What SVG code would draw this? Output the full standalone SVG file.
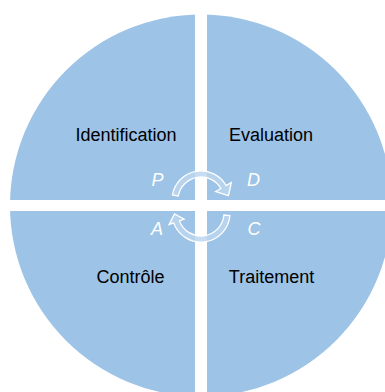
<svg xmlns="http://www.w3.org/2000/svg" width="385" height="392" viewBox="0 0 385 392">
<style>
.lbl{font-family:"Liberation Sans",Arial,sans-serif;font-size:18px;fill:#000;text-anchor:middle}
.pd{font-family:"Liberation Sans",Arial,sans-serif;font-size:18px;font-style:italic;fill:#fff;text-anchor:middle}
.arr{fill:#bdd6ee;fill-opacity:0.85;stroke:#fff;stroke-width:1.3;stroke-linejoin:miter}
</style>
<rect width="385" height="392" fill="#fff"/>
<g id="disc">
<circle cx="201" cy="205.5" r="191" fill="#9dc3e6"/>
<rect x="195" y="0" width="12" height="392" fill="#fff"/>
<rect x="0" y="200" width="385" height="11" fill="#fff"/>
</g>
<g id="identification"><text class="lbl" x="126" y="141">Identification</text></g>
<g id="evaluation"><text class="lbl" x="271" y="141">Evaluation</text></g>
<g id="controle"><text class="lbl" x="130.5" y="283">Contrôle</text></g>
<g id="traitement"><text class="lbl" x="271.5" y="283">Traitement</text></g>
<g id="letters">
<text class="pd" x="157.5" y="186">P</text>
<text class="pd" x="253.5" y="186">D</text>
<text class="pd" x="157" y="235">A</text>
<text class="pd" x="254" y="235">C</text>
</g>
<g id="connectors">
<path class="arr" d="M172.4,195 A29,29 0 0 1 226.1,185.5 L231.3,182.5 L228.5,195.7 L215.7,191.5 L220.9,188.5 A23,23 0 0 0 178.3,196 Z"/>
<path class="arr" d="M229.9,215.5 A29,29 0 0 1 173.7,222.9 L169.1,224.6 L174.5,214 L184.1,219.2 L179.4,220.9 A23,23 0 0 0 223.9,215 Z"/>
</g>
</svg>
